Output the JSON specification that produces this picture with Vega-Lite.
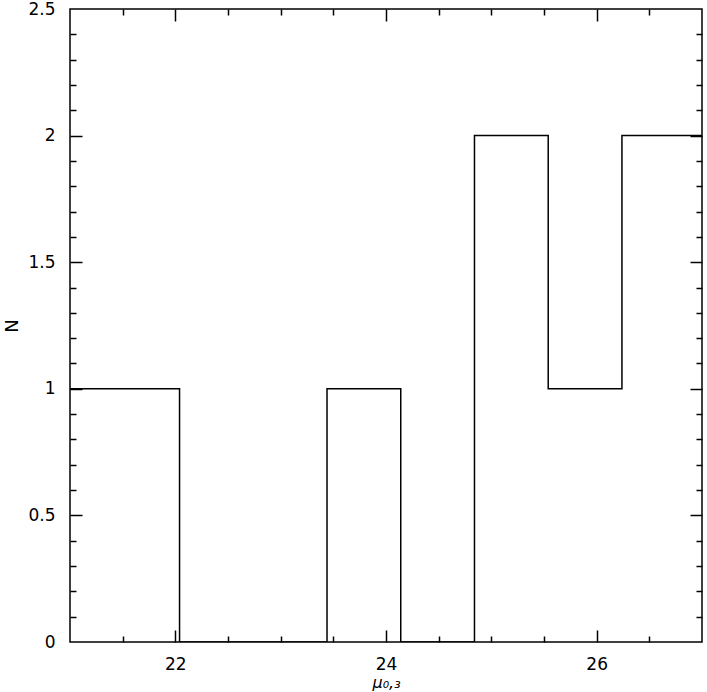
{
  "$schema": "https://vega.github.io/schema/vega-lite/v6.json",
  "width": 632,
  "height": 633,
  "autosize": {"type": "none"},
  "padding": {"left": 70, "top": 9, "right": 5, "bottom": 50},
  "config": {
    "view": {"stroke": "black", "strokeWidth": 1.5},
    "axis": {
      "labelFont": "DejaVu Sans",
      "labelFontSize": 17,
      "labelColor": "black",
      "titleFont": "DejaVu Sans",
      "titleColor": "black",
      "titleFontWeight": "normal",
      "titleFontSize": 18,
      "tickColor": "black",
      "tickWidth": 1.5,
      "grid": false,
      "domain": false
    }
  },
  "data": {
    "values": [
      {"x": 20.64, "n": 1},
      {"x": 21.34, "n": 1},
      {"x": 22.04, "n": 0},
      {"x": 22.74, "n": 0},
      {"x": 23.44, "n": 1},
      {"x": 24.14, "n": 0},
      {"x": 24.84, "n": 2},
      {"x": 25.54, "n": 1},
      {"x": 26.24, "n": 2},
      {"x": 26.94, "n": 2},
      {"x": 27.64, "n": 2}
    ]
  },
  "layer": [
    {
      "mark": {"type": "line", "interpolate": "step-after", "color": "black", "strokeWidth": 1.5, "clip": true},
      "encoding": {
        "x": {
          "field": "x", "type": "quantitative",
          "scale": {"domain": [21, 27], "nice": false, "zero": false},
          "axis": {"orient": "bottom", "values": [22, 24, 26], "ticks": false, "labelPadding": 14, "title": "μ₀,₃", "titleFontStyle": "italic", "titleFontSize": 16, "titlePadding": 2}
        },
        "y": {
          "field": "n", "type": "quantitative",
          "scale": {"domain": [0, 2.5], "nice": false},
          "axis": {"orient": "left", "values": [0, 0.5, 1, 1.5, 2, 2.5], "format": "~g", "ticks": false, "labelPadding": 15, "title": "N", "titlePadding": 6}
        }
      }
    },
    {
      "mark": {"type": "point", "opacity": 0},
      "encoding": {
        "x": {
          "field": "x", "type": "quantitative",
          "axis": {"orient": "bottom", "values": [21.5, 22, 22.5, 23, 23.5, 24, 24.5, 25, 25.5, 26, 26.5], "labels": false, "title": null,
            "tickSize": {"condition": {"test": "abs(datum.value/2 - round(datum.value/2)) < 0.001", "value": -12}, "value": -6}}
        },
        "y": {
          "field": "n", "type": "quantitative",
          "axis": {"orient": "left", "values": [0.1, 0.2, 0.3, 0.4, 0.5, 0.6, 0.7, 0.8, 0.9, 1, 1.1, 1.2, 1.3, 1.4, 1.5, 1.6, 1.7, 1.8, 1.9, 2, 2.1, 2.2, 2.3, 2.4], "labels": false, "title": null,
            "tickSize": {"condition": {"test": "abs(datum.value*2 - round(datum.value*2)) < 0.001", "value": -12}, "value": -6}}
        }
      }
    },
    {
      "mark": {"type": "point", "opacity": 0},
      "encoding": {
        "x": {
          "field": "x", "type": "quantitative",
          "axis": {"orient": "top", "values": [21.5, 22, 22.5, 23, 23.5, 24, 24.5, 25, 25.5, 26, 26.5], "labels": false, "title": null,
            "tickSize": {"condition": {"test": "abs(datum.value/2 - round(datum.value/2)) < 0.001", "value": -12}, "value": -6}}
        },
        "y": {
          "field": "n", "type": "quantitative",
          "axis": {"orient": "right", "values": [0.1, 0.2, 0.3, 0.4, 0.5, 0.6, 0.7, 0.8, 0.9, 1, 1.1, 1.2, 1.3, 1.4, 1.5, 1.6, 1.7, 1.8, 1.9, 2, 2.1, 2.2, 2.3, 2.4], "labels": false, "title": null,
            "tickSize": {"condition": {"test": "abs(datum.value*2 - round(datum.value*2)) < 0.001", "value": -12}, "value": -6}}
        }
      }
    }
  ],
  "resolve": {"axis": {"x": "independent", "y": "independent"}}
}
